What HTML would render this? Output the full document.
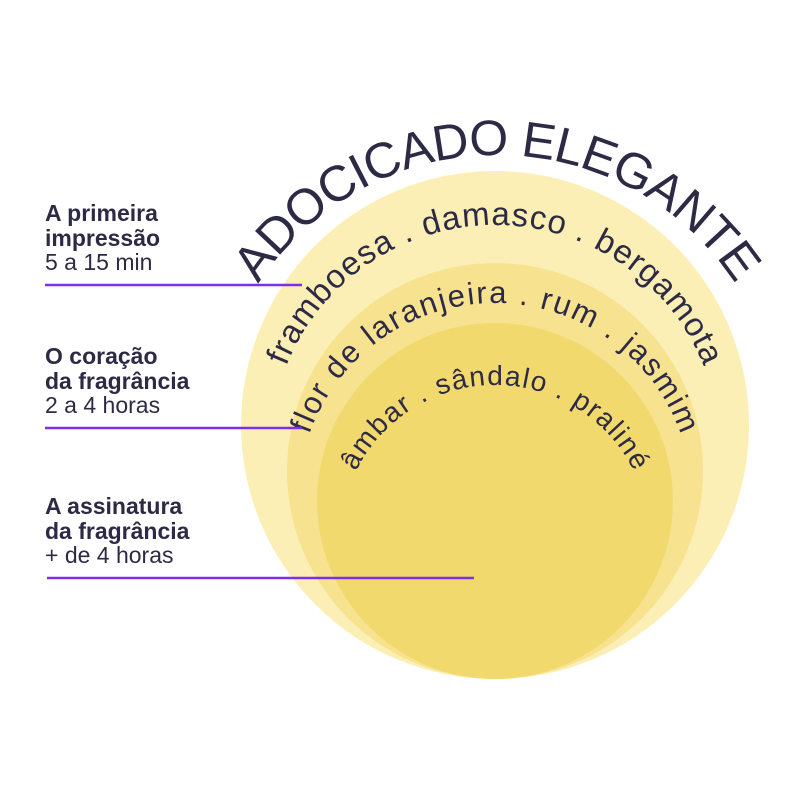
<!DOCTYPE html>
<html><head><style>
html,body{margin:0;padding:0;background:#fff}
</style></head><body>
<svg width="800" height="800" viewBox="0 0 800 800" xmlns="http://www.w3.org/2000/svg" font-family="Liberation Sans, sans-serif">
<defs>
<path id="p1" d="M 212 440 A 285 285 0 1 1 782 440"/>
<path id="p2" d="M 270 450 A 225 225 0 1 1 720 450"/>
<path id="p3" d="M 298 500 A 197 197 0 1 1 692 500"/>
<path id="p4" d="M 340 540 A 155 155 0 1 1 650 540"/>
</defs>
<circle cx="495" cy="425" r="254" fill="#fcefb5"/>
<circle cx="495" cy="471" r="208" fill="#f7e290"/>
<circle cx="495" cy="501" r="178" fill="#f2d96e"/>
<g fill="#2d2a45">
<text font-size="50"><textPath href="#p1" startOffset="50%" text-anchor="middle" textLength="565" lengthAdjust="spacing">ADOCICADO ELEGANTE</textPath></text>
<text font-size="33"><textPath href="#p2" startOffset="50%" text-anchor="middle" textLength="535" lengthAdjust="spacing">framboesa . damasco . bergamota</textPath></text>
<text font-size="31"><textPath href="#p3" startOffset="50%" text-anchor="middle" textLength="485" lengthAdjust="spacing">flor de laranjeira . rum . jasmim</textPath></text>
<text font-size="28"><textPath href="#p4" startOffset="50%" text-anchor="middle" textLength="345" lengthAdjust="spacing">âmbar . sândalo . praliné</textPath></text>
<g font-size="23">
<text x="45" y="221" font-weight="bold">A primeira</text>
<text x="45" y="246" font-weight="bold">impressão</text>
<text x="45" y="270">5 a 15 min</text>
<text x="45" y="364" font-weight="bold">O coração</text>
<text x="45" y="389" font-weight="bold">da fragrância</text>
<text x="45" y="413">2 a 4 horas</text>
<text x="45" y="514" font-weight="bold">A assinatura</text>
<text x="45" y="539" font-weight="bold">da fragrância</text>
<text x="45" y="563">+ de 4 horas</text>
</g>
</g>
<g stroke="#7b2ff0" stroke-width="2.5">
<line x1="45" y1="285" x2="302" y2="285"/>
<line x1="45" y1="428" x2="302" y2="428"/>
<line x1="47" y1="578" x2="474" y2="578"/>
</g>
</svg>
</body></html>
